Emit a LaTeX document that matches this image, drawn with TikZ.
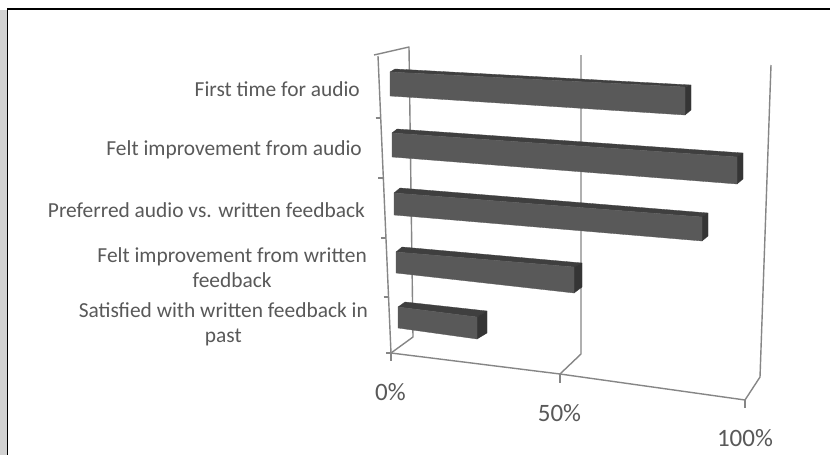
\documentclass[tikz,border=0pt]{standalone}
\usepackage{fontspec}
\setmainfont{Carlito}
\definecolor{axisgray}{HTML}{868686}
\definecolor{labelgray}{HTML}{595959}
\definecolor{barfront}{HTML}{595959}
\definecolor{bartop}{HTML}{3F3F3F}
\definecolor{barside}{HTML}{353535}
\tikzset{
  axisline/.style={draw=axisgray, line width=1.4pt, line join=round},
  catlabel/.style={text=labelgray, inner sep=0pt, anchor=east, align=center,
    font=\fontsize{21.4}{25}\selectfont},
  pctlabel/.style={text=labelgray, inner sep=0pt,
    font=\fontsize{25}{30}\selectfont},
  barfrontface/.style={fill=barfront, draw=barfront, line width=0.3pt, line join=round},
  bartopface/.style={fill=bartop, draw=bartop, line width=0.3pt, line join=round},
  barsideface/.style={fill=barside, draw=barside, line width=0.3pt, line join=round},
}
\begin{document}
\begin{tikzpicture}[x=1pt,y=-1pt]
\useasboundingbox (0,0) rectangle (830,455);
\fill[white] (0,0) rectangle (830,455);

% outer frame with its shadow on the left
\fill[gray!35] (0,10) rectangle (6.8,455);
\draw[black, line width=1.6pt] (7.6,455) -- (7.6,9) -- (830,9);

% plot box: front axis, back wall and floor
\coordinate (ftop) at (378,56);
\coordinate (fbot) at (391,353);
\coordinate (btop) at (409,47);
\coordinate (bbot) at (413,337);
\draw[axisline] (374,55) -- (btop) -- (bbot) -- (fbot);
\draw[axisline] (ftop) -- (fbot);
% category ticks on the front axis
\foreach \yy in {118,178,238,297,353}
  \draw[axisline] ({378+(\yy-56)*0.0438-5},\yy) -- ({378+(\yy-56)*0.0438},\yy);
% value gridlines on the back wall
\coordinate (g50b) at (581,55);
\coordinate (g50c) at (581,354);
\coordinate (g50f) at (560,374);
\coordinate (g100b) at (771,65);
\coordinate (g100c) at (760,377);
\coordinate (g100f) at (745,400);
\draw[axisline] (g50b) -- (g50c) -- (g50f);
\draw[axisline] (g100b) -- (g100c) -- (g100f);
% value axis along the floor
\draw[axisline] (fbot) -- (g50f) -- (g100f);
\draw[axisline] (fbot) -- ++(0,8);
\draw[axisline] (g50f) -- ++(0,9);
\draw[axisline] (g100f) -- ++(0,8);

% bars: left x, front top/bottom at left, right x, front top/bottom at right,
% side right x, side top/bottom, top-face offset
\foreach \L/\TL/\BL/\R/\TR/\BR/\SX/\ST/\SB/\dx/\dy in {
  390/72/96/685/87/115/691/85/110/5/3,
  392/133/157/737/157/184/743/153/179/5/4,
  394/193/215/702/217/241/708/213/236/6/5,
  396/252/273/574/267/293/582/263/287/6/5,
  398/307/328/477/317/339/487/311/333/7/5}{
  \draw[bartopface] (\L,\TL) -- (\L+\dx,\TL-\dy) -- (\SX,\ST) -- (\R,\TR) -- cycle;
  \draw[barsideface] (\R,\TR) -- (\SX,\ST) -- (\SX,\SB) -- (\R,\BR) -- cycle;
  \draw[barfrontface] (\L,\TL) -- (\R,\TR) -- (\R,\BR) -- (\L,\BL) -- cycle;
}

% category labels
\node[catlabel] (c1) at (360,89) {First time for audio};
\node[catlabel] (c2) at (362,150) {Felt improvement from audio};
\node[catlabel] (c3) at (365,210) {Preferred audio vs. written feedback};
\node[catlabel] (c4) at (367,267.5) {Felt improvement from written\\feedback};
\node[catlabel] (c5) at (368,324) {Satisfied with written feedback in\\past};

% value labels
\node[pctlabel] (p0) at (390.5,392) {0\%};
\node[pctlabel] (p50) at (559.5,413) {50\%};
\node[pctlabel] (p100) at (745,438) {100\%};
\end{tikzpicture}
\end{document}
